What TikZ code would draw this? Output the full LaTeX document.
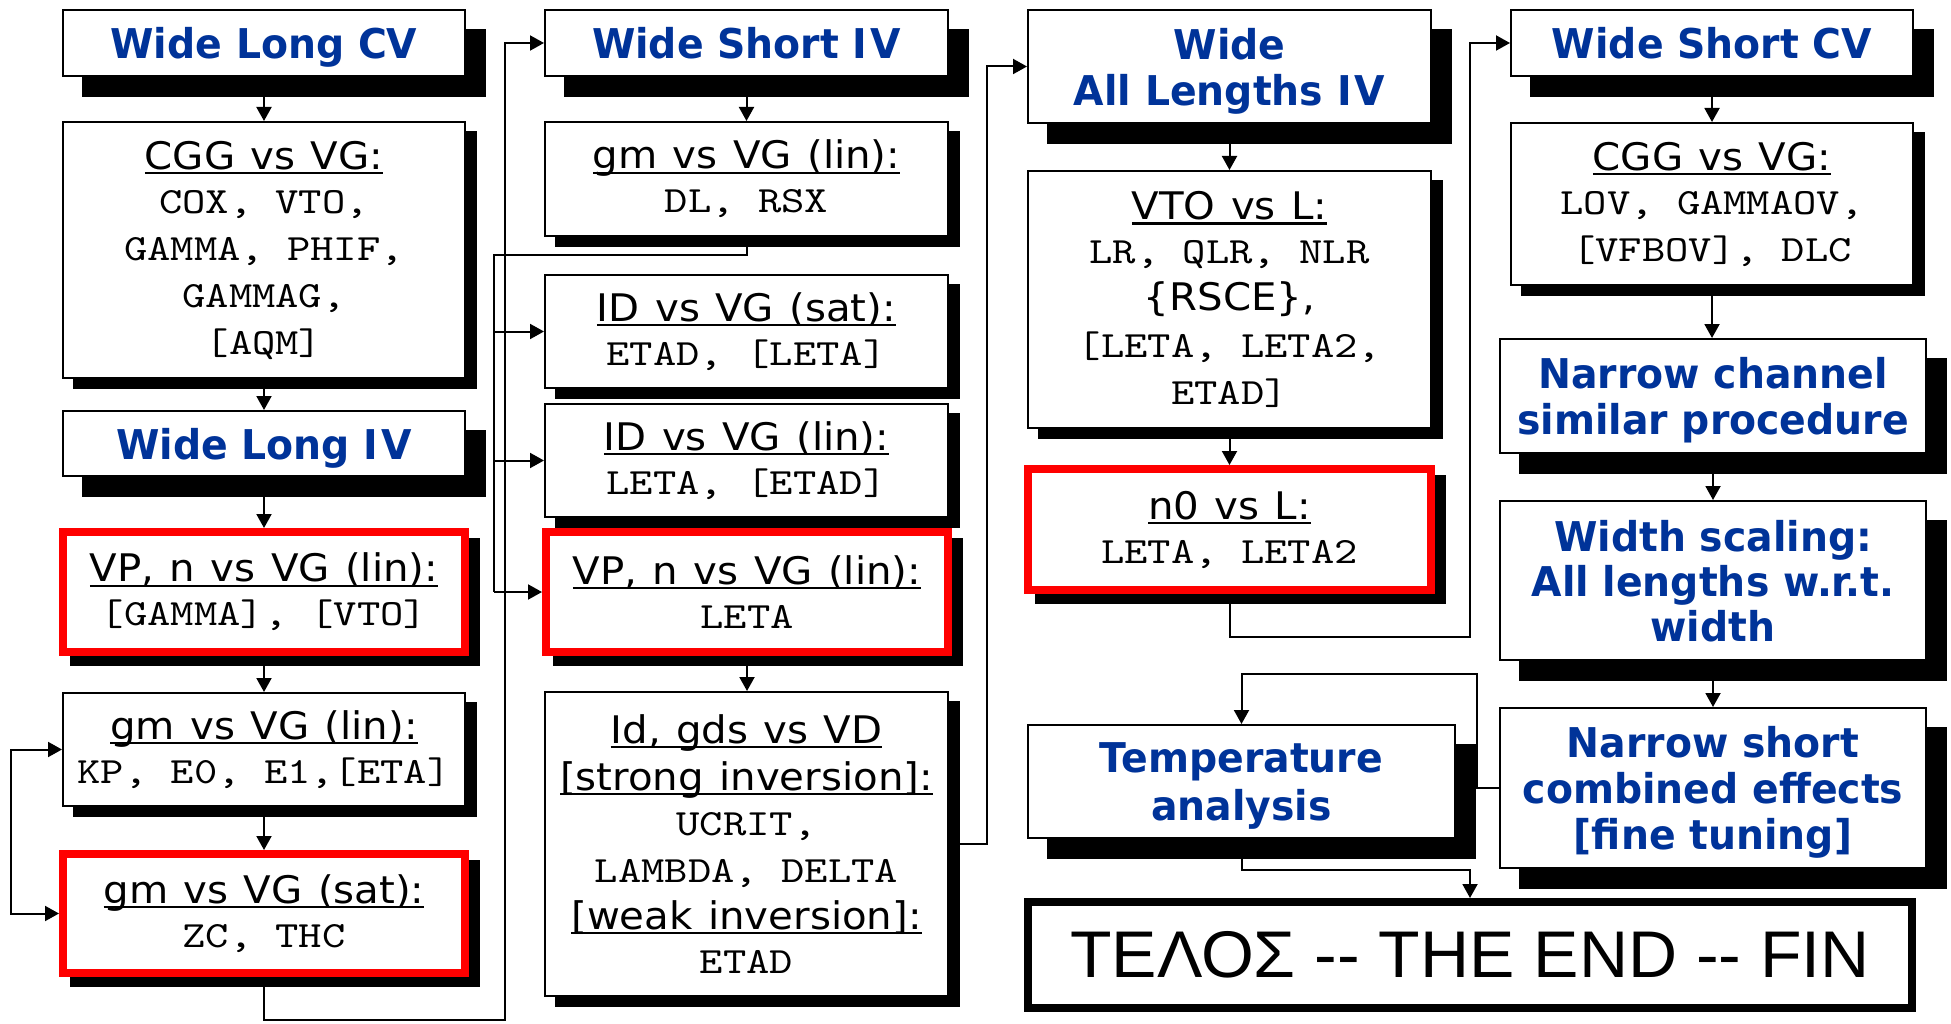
\documentclass[tikz,border=0pt]{standalone}
\usepackage{fontspec}
\usetikzlibrary{arrows.meta,backgrounds}
\newfontfamily\titlefam{DejaVu Sans}[FakeStretch=0.96]
\newfontfamily\headfam{DejaVu Sans}[FakeStretch=1.06, WordSpace=1.2]
\newfontfamily\monofam{lmmono10-regular.otf}[FakeStretch=1.2]
\newfontfamily\endfam{Liberation Sans}[FakeStretch=1.03]
\definecolor{titleblue}{RGB}{0,51,153}
\newsavebox\ulbox
% underlined heading in the sans face
\newcommand\hd[1]{{\headfam\fontsize{38}{47}\selectfont\sbox\ulbox{#1}\rlap{\rule[-5pt]{\wd\ulbox}{2.2pt}}\usebox\ulbox}}
\newcommand\sanstxt[1]{{\headfam\fontsize{38}{47}\selectfont #1}}
\newcommand\IV{I\kern3pt V}
% black drop shadow behind a node, shifted right/down
\newcommand\shadowof[3]{\fill[black] ([shift={(#2,#3)}]#1.north west) rectangle ([shift={(#2,#3)}]#1.south east);}
\tikzset{
  box/.style={draw, line width=2pt, fill=white, inner sep=0pt, align=center,
    font=\monofam\fontsize{37}{47}\selectfont},
  redbox/.style={box, draw=red, line width=8pt},
  titlebox/.style={box, text=titleblue, text depth=0pt,
    font=\titlefam\bfseries\fontsize{41}{46}\selectfont},
  endbox/.style={box, line width=8pt, font=\endfam\fontsize{66}{72}\selectfont},
  wire/.style={line width=2pt},
  arrow/.style={wire, -{Triangle[length=14pt,width=15pt]}},
  twoway/.style={wire, {Triangle[length=14pt,width=15pt]}-{Triangle[length=14pt,width=15pt]}},
}
\begin{document}
\begin{tikzpicture}[x=1pt, y=-1pt]
\useasboundingbox (0,0) rectangle (1951,1024);

% ---- column 1: wide long devices
\node[titlebox, minimum width=402pt, minimum height=66pt] (wlcv) at (264,43) {Wide Long CV};
\node[box, minimum width=402pt, minimum height=256pt] (cgg1) at (264,250)
  {\hd{CGG vs VG:}\\[-3pt]COX, VTO,\\GAMMA, PHIF,\\GAMMAG,\\{}[AQM]};
\node[titlebox, minimum width=402pt, minimum height=65pt] (wliv) at (264,443.5) {Wide Long \IV};
\node[redbox, minimum width=402pt, minimum height=120pt] (vpn1) at (264,592)
  {\hd{VP, n vs VG (lin):}\\[-3pt]{}[GAMMA], [VTO]};
\node[box, minimum width=402pt, minimum height=113pt] (gml1) at (264,749.5)
  {\hd{gm vs VG (lin):}\\[-3pt]KP, E0, E1,[ETA]};
\node[redbox, minimum width=402pt, minimum height=119pt] (gms1) at (264,913.5)
  {\hd{gm vs VG (sat):}\\[-3pt]ZC, THC};

% ---- column 2: wide short IV
\node[titlebox, minimum width=403pt, minimum height=66pt] (wsiv) at (746.5,43) {Wide Short \IV};
\node[box, minimum width=403pt, minimum height=114pt] (gml2) at (746.5,179)
  {\hd{gm vs VG (lin):}\\[-3pt]DL, RSX};
\node[box, minimum width=403pt, minimum height=113pt] (ids) at (746.5,331.5)
  {\hd{ID vs VG (sat):}\\[-3pt]ETAD, [LETA]};
\node[box, minimum width=403pt, minimum height=113pt] (idl) at (746.5,460.5)
  {\hd{ID vs VG (lin):}\\[-3pt]LETA, [ETAD]};
\node[redbox, minimum width=402pt, minimum height=120pt] (vpn2) at (747,592)
  {\hd{VP, n vs VG (lin):}\\[-3pt]LETA};
\node[box, minimum width=403pt, minimum height=304pt] (idg) at (746.5,844)
  {\hd{Id, gds vs VD}\\\hd{[strong inversion]:}\\[-2pt]UCRIT,\\LAMBDA, DELTA\\\hd{[weak inversion]:}\\[-3pt]ETAD};

% ---- column 3: all lengths, temperature, end
\node[titlebox, minimum width=403pt, minimum height=113pt] (wal) at (1229.5,66.5) {Wide\\All Lengths \IV};
\node[box, minimum width=403pt, minimum height=257pt] (vto) at (1229.5,299.5)
  {\hd{VTO vs L:}\\[-3pt]LR, QLR, NLR\\\sanstxt{\{RSCE\},}\\{}[LETA, LETA2,\\ETAD]};
\node[redbox, minimum width=403pt, minimum height=121pt] (n0) at (1229.5,529.5)
  {\hd{n0 vs L:}\\[-3pt]LETA, LETA2};
\node[titlebox, font=\titlefam\bfseries\fontsize{41}{48}\selectfont,
  minimum width=427pt, minimum height=113pt] (temp) at (1241.5,781.5) {Temperature\\analysis};
\node[endbox, minimum width=884pt, minimum height=106pt] (fin) at (1470,955)
  {ΤΕΛΟΣ -{}- THE END -{}- FIN};

% ---- column 4: wide short CV, narrow and scaling
\node[titlebox, minimum width=402pt, minimum height=66pt] (wscv) at (1712,43) {Wide Short CV};
\node[box, minimum width=402pt, minimum height=162pt] (cgg4) at (1712,204)
  {\hd{CGG vs VG:}\\[-3pt]LOV, GAMMAOV,\\{}[VFBOV], DLC};
\node[titlebox, minimum width=426pt, minimum height=114pt] (nc) at (1713,396) {Narrow channel\\similar procedure};
\node[titlebox, font=\titlefam\bfseries\fontsize{41}{45}\selectfont,
  minimum width=426pt, minimum height=159pt] (wsc) at (1713,580.5) {Width scaling:\\All lengths w.r.t.\\width};
\node[titlebox, minimum width=426pt, minimum height=160pt] (ns) at (1713,788) {Narrow short\\combined effects\\{}[fine tuning]};

% ---- shadows
\begin{pgfonlayer}{background}
  \foreach \n in {wlcv,wliv,wsiv,wal,temp,wscv,nc,wsc,ns} {\shadowof{\n}{20}{20}}
  \foreach \n in {cgg1,vpn1,gml1,gms1,gml2,ids,idl,vpn2,idg,vto,n0,cgg4} {\shadowof{\n}{11}{10}}
\end{pgfonlayer}

% ---- connectors
\coordinate (c0) at (505,1020);
\coordinate (c1) at (494,255);
\coordinate (c2) at (987,0);
\coordinate (c3) at (1470,637);
\coordinate (c4) at (1477,674);
\coordinate (c5) at (0,870);

\draw[arrow] (wlcv.south) -- (cgg1.north);
\draw[arrow] (cgg1.south) -- (wliv.north);
\draw[arrow] (wliv.south) -- (vpn1.north);
\draw[arrow] (vpn1.south) -- (gml1.north);
\draw[arrow] (gml1.south) -- (gms1.north);
\draw[twoway] (gml1.west) -- ++(-51,0) |- (gms1.west);
\draw[arrow] (gms1.south) |- (c0) |- (wsiv.west);

\draw[arrow] (wsiv.south) -- (gml2.north);
\draw[wire] (gml2.south) |- (c1) -- (c1 |- vpn2.west);
\draw[arrow] (c1 |- ids.west) -- (ids.west);
\draw[arrow] (c1 |- idl.west) -- (idl.west);
\draw[arrow] (c1 |- vpn2.west) -- (vpn2.west);
\draw[arrow] (vpn2.south) -- (vpn2.south |- idg.north);
\draw[arrow] (idg.east) -- (idg.east -| c2) |- (wal.west);

\draw[arrow] (wal.south) -- (vto.north);
\draw[arrow] (vto.south) -- (n0.north);
\draw[arrow] (n0.south) |- (c3) |- (wscv.west);

\draw[arrow] (wscv.south) -- (cgg4.north);
\draw[arrow] (cgg4.south) -- (cgg4.south |- nc.north);
\draw[arrow] (nc.south) -- (wsc.north);
\draw[arrow] (wsc.south) -- (ns.north);
\draw[arrow] (ns.west) -| (c4) -| (temp.north);
\draw[arrow] (temp.south) -- (temp.south |- c5) -| (fin.north);
\end{tikzpicture}
\end{document}
